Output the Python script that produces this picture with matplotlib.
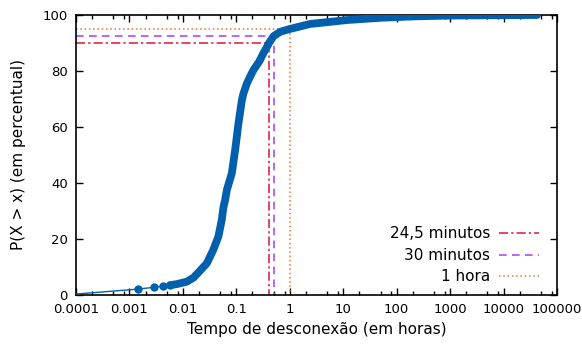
import matplotlib
matplotlib.use('Agg')
import matplotlib.pyplot as plt
from matplotlib.ticker import FixedLocator, FixedFormatter, LogLocator, NullFormatter

# CDF do tempo de desconexao
x_horas = [0.00006, 0.00143, 0.00289, 0.00431, 0.00575, 0.0077, 0.0118, 0.0158,
           0.021, 0.028, 0.037, 0.046, 0.0534, 0.0575, 0.0617, 0.0664, 0.0824,
           0.095, 0.1097, 0.127, 0.136, 0.158, 0.181, 0.21, 0.27, 0.318, 0.36,
           0.409, 0.495, 0.66, 1.0, 2.4, 11.8, 49, 204, 1000, 5000, 42400]
y_pct = [0.0, 2.1, 2.75, 3.2, 3.5, 3.9, 4.75, 6.2,
         8.7, 11.3, 16.1, 20.8, 26.8, 31.5, 33.9, 37.5, 43.5,
         51.8, 61.3, 69.6, 72.0, 75.6, 78.0, 80.4, 83.5, 86.2, 88.0,
         90.0, 92.4, 94.0, 95.0, 96.8, 98.2, 99.0, 99.5, 99.8, 99.9, 100.0]

# linhas de referencia
ref_labels = ['24,5 minutos', '30 minutos', '1 hora']
ref_x = [24.5 / 60, 30 / 60, 1.0]
ref_y = [90.0, 92.4, 95.0]
ref_colors = ['#dc143c', '#a040f0', '#e8762c']
ref_styles = [(0, (6, 2, 1.5, 2)), (0, (5, 3.5)), (0, (1, 1.8))]

xticks = [0.0001, 0.001, 0.01, 0.1, 1, 10, 100, 1000, 10000, 100000]
xtick_labels = ['0.0001', '0.001', '0.01', '0.1', '1', '10', '100', '1000', '10000', '100000']
yticks = [0, 20, 40, 60, 80, 100]

fig = plt.figure(figsize=(5.82, 3.45), dpi=100)
ax = fig.add_axes([76 / 582, 1 - 295 / 345, (557 - 76) / 582, (295 - 15) / 345])

blue = '#0060ad'
ax.plot(x_horas, y_pct, color=blue, lw=1.0, zorder=3)
# pontos isolados no inicio, faixa grossa onde os pontos se acumulam
sparse = [i for i, x in enumerate(x_horas) if 0.001 < x < 0.006]
ax.plot([x_horas[i] for i in sparse], [y_pct[i] for i in sparse], 'o',
        color=blue, ms=6, mew=0, zorder=3)
dense_x = [x for x in x_horas if x >= 0.0055]
dense_y = [y for x, y in zip(x_horas, y_pct) if x >= 0.0055]
ax.plot(dense_x, dense_y, color=blue, lw=5.6, solid_capstyle='round',
        solid_joinstyle='round', zorder=3)

for lab, xv, yv, c, ls in zip(ref_labels, ref_x, ref_y, ref_colors, ref_styles):
    ax.plot([xticks[0], xv, xv], [yv, yv, 0], color=c, lw=1.1, linestyle=ls,
            label=lab, zorder=2)

ax.set_xscale('log')
ax.set_xlim(xticks[0], xticks[-1])
ax.set_ylim(0, 100)
ax.xaxis.set_major_locator(FixedLocator(xticks))
ax.xaxis.set_major_formatter(FixedFormatter(xtick_labels))
ax.xaxis.set_minor_locator(LogLocator(base=10, subs=(2, 5, 8), numticks=20))
ax.xaxis.set_minor_formatter(NullFormatter())
ax.set_yticks(yticks)

ax.tick_params(which='both', direction='in', top=True, right=True, labelsize=9.5,
               colors='black', width=1)
ax.tick_params(which='major', length=5)
ax.tick_params(which='minor', length=3)
ax.tick_params(axis='y', pad=6)
ax.tick_params(axis='x', pad=6)
for s in ax.spines.values():
    s.set_linewidth(1.2)

ax.set_xlabel('Tempo de desconexão (em horas)', fontsize=11, labelpad=4)
ax.set_ylabel('P(X > x) (em percentual)', fontsize=11, labelpad=12)

ax.legend(loc='lower right', bbox_to_anchor=(0.985, 0.0), markerfirst=False,
          frameon=False, fontsize=11, handlelength=2.6, labelspacing=0.42,
          handletextpad=0.6, borderaxespad=0.3)

fig.savefig('out.png', dpi=100)
